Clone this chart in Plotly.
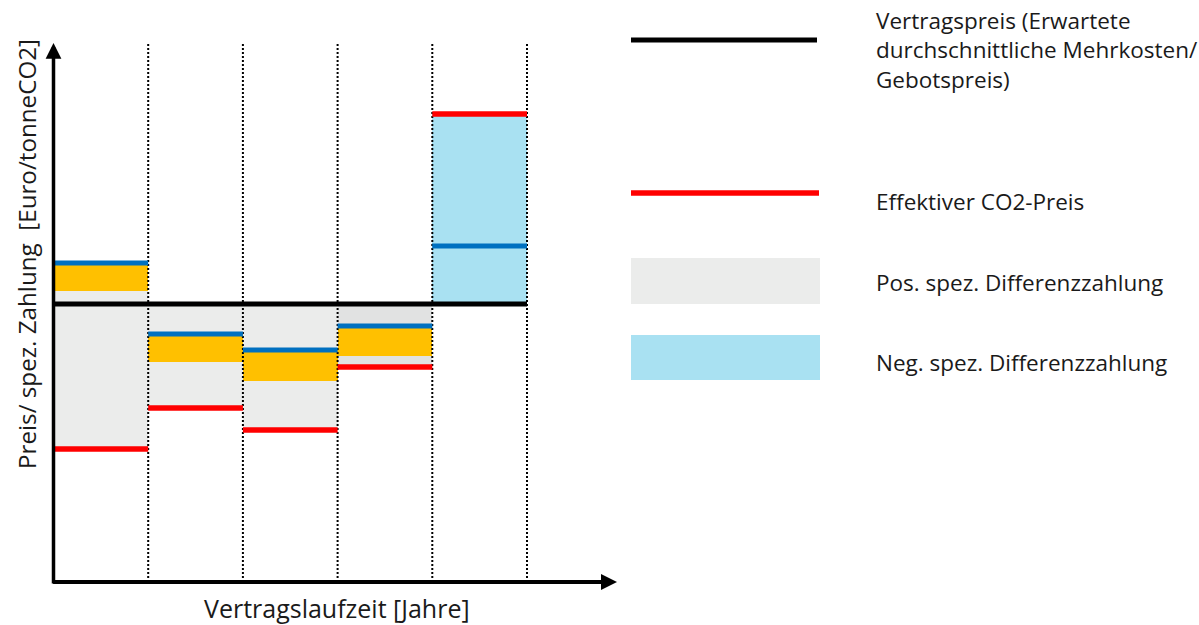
import plotly.graph_objects as go

# Contract years (period edges) and price levels in Euro/tonneCO2
period_start = [0, 1, 2, 3, 4]
period_end = [1, 2, 3, 4, 5]
vertragspreis = 139.0
effektiver_co2_preis = [66.5, 87.0, 76.0, 107.5, 234.0]
mehrkosten = [159.5, 124.0, 116.0, 128.0, 168.0]
mehrkosten_unten = [145.5, 110.0, 100.5, 113.0, None]

legend_labels = [
    "Vertragspreis (Erwartete<br>durchschnittliche Mehrkosten/<br>Gebotspreis)",
    "Effektiver CO2-Preis",
    "Pos. spez. Differenzzahlung",
    "Neg. spez. Differenzzahlung",
]
x_title = "Vertragslaufzeit [Jahre]"
y_title = "Preis/ spez. Zahlung  [Euro/tonneCO2]"

# Styles
RED = "#ff0000"
BLUE = "#0070c0"
ORANGE = "#ffc000"
GREY = "#ebeceb"
GREY_DARK = "#e1e2e2"
CYAN = "#a9e1f2"
TEXT = "#1a1a1a"
FONT = "Open Sans"
W, H = 1199, 625

# Scale of the drawing area (pixels per year / per Euro)
px_year, x0_px = 94.7, 53.5
px_euro, y0_px = 2.0, 582.0
x_range = [-x0_px / px_year, (W - x0_px) / px_year]
y_range = [-(H - y0_px) / px_euro, y0_px / px_euro]
y_top = 269.5
x_tip = 5.95

centers = [(a + b) / 2 for a, b in zip(period_start, period_end)]
widths = [b - a for a, b in zip(period_start, period_end)]

fig = go.Figure()

# Positive difference payment (grey): effective price below contract price
g_x, g_base, g_h, g_w, g_col = [], [], [], [], []
n_x, n_base, n_h, n_w = [], [], [], []
for i, (c, w, r) in enumerate(zip(centers, widths, effektiver_co2_preis)):
    if r < vertragspreis:
        top = max(vertragspreis, mehrkosten_unten[i] or vertragspreis)
        g_x.append(c); g_base.append(r); g_h.append(top - r); g_w.append(w)
        g_col.append(GREY_DARK if i == 3 else GREY)
    else:
        n_x.append(c); n_base.append(vertragspreis); n_h.append(r - vertragspreis); n_w.append(w)

fig.add_trace(go.Bar(x=g_x, y=g_h, base=g_base, width=g_w,
                     marker=dict(color=g_col, line_width=0), showlegend=False))
fig.add_trace(go.Bar(x=n_x, y=n_h, base=n_base, width=n_w,
                     marker=dict(color=CYAN, line_width=0), showlegend=False))

# Orange band below the expected additional costs
o_x, o_base, o_h, o_w = [], [], [], []
for c, w, lo, hi in zip(centers, widths, mehrkosten_unten, mehrkosten):
    if lo is not None:
        o_x.append(c); o_base.append(lo); o_h.append(hi - lo); o_w.append(w)
fig.add_trace(go.Bar(x=o_x, y=o_h, base=o_base, width=o_w,
                     marker=dict(color=ORANGE, line_width=0), showlegend=False))

# Dotted year separators
dx, dy = [], []
for b in period_end:
    dx += [b, b, None]
    dy += [0, 270, None]
fig.add_trace(go.Scatter(x=dx, y=dy, mode="lines",
                         line=dict(color="black", width=2, dash="2px,2px"),
                         hoverinfo="skip", showlegend=False))


def segments(values):
    xs, ys = [], []
    for a, b, v in zip(period_start, period_end, values):
        xs += [a, b, None]
        ys += [v, v, None]
    return xs, ys


sx, sy = segments(mehrkosten)
fig.add_trace(go.Scatter(x=sx, y=sy, mode="lines", line=dict(color=BLUE, width=5),
                         showlegend=False))
sx, sy = segments(effektiver_co2_preis)
fig.add_trace(go.Scatter(x=sx, y=sy, mode="lines", line=dict(color=RED, width=5.5),
                         showlegend=False))
fig.add_trace(go.Scatter(x=[period_start[0], period_end[-1]], y=[vertragspreis] * 2,
                         mode="lines", line=dict(color="black", width=5),
                         showlegend=False))

# Axes with arrow heads
fig.add_annotation(x=0, y=y_top, ax=0, ay=-1.5, xref="x", yref="y", axref="x", ayref="y",
                   text="", showarrow=True, arrowhead=2, arrowwidth=3.5, arrowsize=0.9,
                   arrowcolor="black", standoff=0)
fig.add_annotation(x=x_tip, y=0, ax=-0.02, ay=0, xref="x", yref="y", axref="x", ayref="y",
                   text="", showarrow=True, arrowhead=2, arrowwidth=4, arrowsize=0.8,
                   arrowcolor="black", standoff=0)

# Axis titles
fig.add_annotation(x=337 / W, y=1 - 608 / H, xref="paper", yref="paper", text=x_title,
                   xanchor="center", yanchor="middle", showarrow=False,
                   font=dict(family=FONT, size=25, color=TEXT))
fig.add_annotation(x=26 / W, y=1 - 254 / H, xref="paper", yref="paper", text=y_title,
                   xanchor="center", yanchor="middle", textangle=-90, showarrow=False,
                   font=dict(family=FONT, size=24.2, color=TEXT))

# Legend swatches and labels
sw_x0, sw_x1, lbl_x = 631 / W, 819 / W, 874 / W
fig.add_shape(type="line", xref="paper", yref="paper", x0=sw_x0, x1=817 / W,
              y0=1 - 40 / H, y1=1 - 40 / H, line=dict(color="black", width=5))
fig.add_shape(type="line", xref="paper", yref="paper", x0=sw_x0, x1=sw_x1,
              y0=1 - 193 / H, y1=1 - 193 / H, line=dict(color=RED, width=5.5))
fig.add_shape(type="rect", xref="paper", yref="paper", x0=sw_x0, x1=820 / W,
              y0=1 - 304 / H, y1=1 - 258 / H, line_width=0, fillcolor=GREY)
fig.add_shape(type="rect", xref="paper", yref="paper", x0=sw_x0, x1=820 / W,
              y0=1 - 380 / H, y1=1 - 335 / H, line_width=0, fillcolor=CYAN)
for label, yc in zip(legend_labels, [50, 201, 282, 362]):
    fig.add_annotation(x=lbl_x, y=1 - yc / H, xref="paper", yref="paper", text=label,
                       showarrow=False, xanchor="left", yanchor="middle", align="left",
                       font=dict(family=FONT, size=22.5, color=TEXT))

fig.update_layout(
    width=W, height=H, margin=dict(l=0, r=0, t=0, b=0),
    paper_bgcolor="white", plot_bgcolor="white",
    barmode="overlay", bargap=0, showlegend=False,
    xaxis=dict(range=x_range, visible=False, fixedrange=True),
    yaxis=dict(range=y_range, visible=False, fixedrange=True),
)

fig.write_html("out.html")
